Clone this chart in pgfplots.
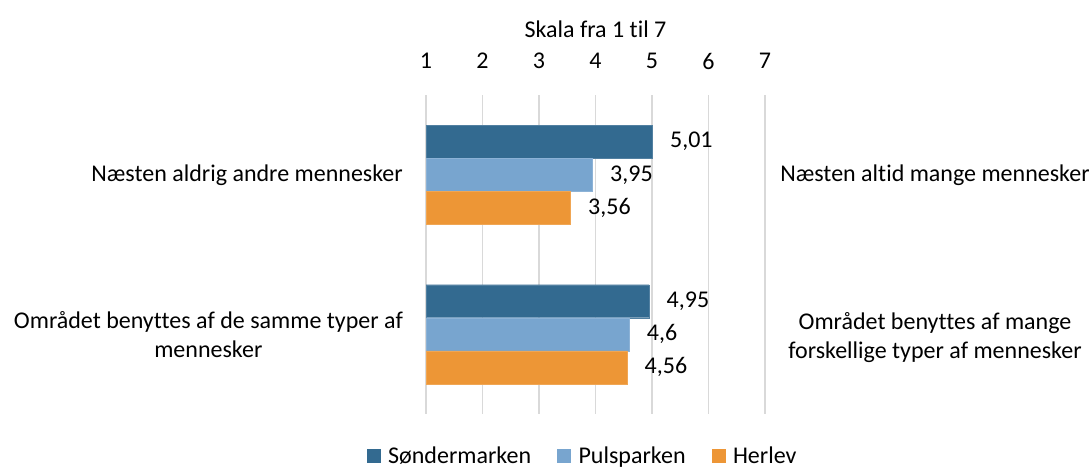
\documentclass[border=0pt]{standalone}
\usepackage{fontspec}
\setmainfont{Carlito}[Ligatures={NoCommon}]
\usepackage{pgfplots}
\pgfplotsset{compat=1.18}
\definecolor{cA}{HTML}{336A90}
\definecolor{cB}{HTML}{78A5CF}
\definecolor{cC}{HTML}{ED9636}
\definecolor{gridc}{HTML}{D9D9D9}
\newcommand\fs{\fontsize{24}{29}\selectfont}
\begin{document}
\begin{tikzpicture}[font=\fs]
\useasboundingbox (0,0) rectangle (1089pt,468pt);
\begin{axis}[
  at={(426pt,54pt)}, anchor=south west,
  scale only axis, width=339pt, height=319pt,
  xmin=1, xmax=7, ymin=-0.5, ymax=1.5,
  xtick={1,2,3,4,5,6,7}, xticklabel pos=upper,
  xmajorgrids, grid style={draw=gridc, line width=1.3pt},
  axis line style={draw=none}, tick style={draw=none},
  ytick={0,1},
  yticklabels={{Området benyttes af de samme typer af\\mennesker},{Næsten aldrig andre mennesker}},
  yticklabel style={anchor=east, inner sep=0pt, xshift=-23pt, align=center, font=\fs},
  xticklabel style={anchor=center, yshift=34pt, font=\fs},
  /pgf/number format/assume math mode=true,
  /pgf/number format/use comma,
  /pgf/number format/precision=2,
  clip mode=individual,
  nodes near coords,
  point meta=x,
  every node near coord/.append style={anchor=west, xshift=14pt, font=\fs, black},
  legend style={at={(0.462,-0.13)}, anchor=center, draw=none, font=\fs,
    legend columns=-1, inner sep=0pt,
    /tikz/every odd column/.append style={column sep=6pt},
    /tikz/every even column/.append style={column sep=24pt}},
  legend cell align=left,
]
\addplot[xbar, bar width=0.207, bar shift=0.207, fill=cA, draw=cA!85!white,
  every node near coord/.append style={yshift=33pt},
  legend image code/.code={\fill[cA] (0pt,-6.5pt) rectangle (13pt,6.5pt);}]
  coordinates {(5.01,1) (4.95,0)};
\addplot[xbar, bar width=0.207, bar shift=0, fill=cB, draw=cB!85!white,
  legend image code/.code={\fill[cB] (0pt,-6.5pt) rectangle (13pt,6.5pt);}]
  coordinates {(3.95,1) (4.6,0)};
\addplot[xbar, bar width=0.207, bar shift=-0.207, fill=cC, draw=cC!85!white,
  every node near coord/.append style={yshift=-33pt},
  legend image code/.code={\fill[cC] (0pt,-6.5pt) rectangle (13pt,6.5pt);}]
  coordinates {(3.56,1) (4.56,0)};
\legend{Søndermarken, Pulsparken, Herlev}
\node[font=\fs] at (rel axis cs:0.5,1) [yshift=66pt] {Skala fra 1 til 7};
\node[font=\fs, align=center] at (axis cs:7,1) [xshift=170pt] {Næsten altid mange mennesker};
\node[font=\fs, align=center] at (axis cs:7,0) [xshift=170pt, yshift=-3pt] {Området benyttes af mange\\forskellige typer af mennesker};
\end{axis}
\end{tikzpicture}
\end{document}
